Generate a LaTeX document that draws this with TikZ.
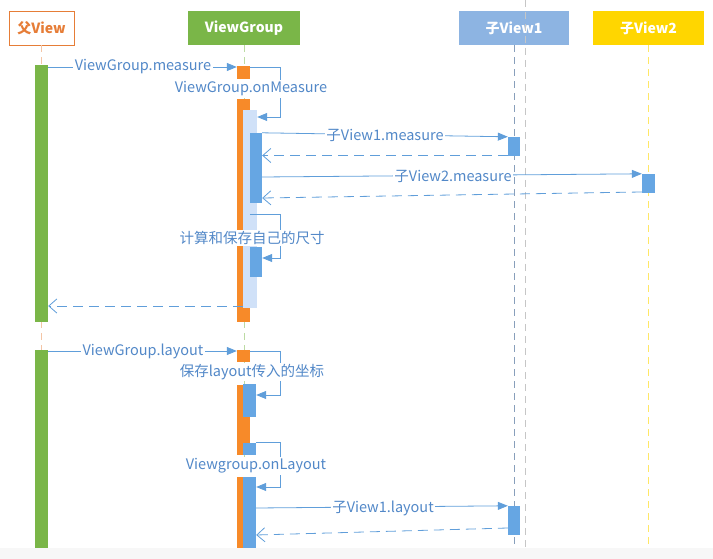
\documentclass[tikz,border=0pt]{standalone}
\usepackage{fontspec}
\setmainfont{Noto Sans CJK SC}
\definecolor{naranja}{RGB}{230,125,55}
\definecolor{barraNaranja}{RGB}{247,138,41}
\definecolor{verde}{RGB}{122,182,72}
\definecolor{azulCab}{RGB}{141,180,226}
\definecolor{amarillo}{RGB}{255,214,0}
\definecolor{azulLinea}{RGB}{96,158,218}
\definecolor{azulTexto}{RGB}{82,136,200}
\definecolor{azulBarra}{RGB}{102,166,227}
\definecolor{azulClaro}{RGB}{208,225,248}
\usepackage{tikz}
\usetikzlibrary{arrows.meta,calc}

\begin{document}
\begin{tikzpicture}[
    x=1pt, y=-1pt,
    font=\fontsize{14.5}{17}\selectfont,
    cabecera/.style={
        rectangle,
        inner sep=0pt,
        minimum width=110pt,
        minimum height=34pt,
        text=white,
        font=\fontsize{14}{16}\selectfont\bfseries
    },
    barra/.style={
        rectangle,
        inner sep=0pt,
        minimum width=13pt
    },
    vida/.style={
        dash pattern=on 7pt off 5pt,
        line width=1pt
    },
    llamada/.style={
        -{Triangle[length=10pt,width=8pt]},
        azulLinea,
        line width=0.8pt
    },
    retorno/.style={
        -{Straight Barb[length=8pt,width=14pt]},
        azulLinea,
        dash pattern=on 10pt off 6pt,
        line width=0.8pt
    },
    etiqueta/.style={
        fill=white,
        inner sep=1.5pt,
        text=azulTexto
    }
]
\useasboundingbox (0,0) rectangle (713,559);
\fill[gray!6] (0,548) rectangle (713,559);
\coordinate (fondo) at (0,548);

% CABECERAS
\node[cabecera, draw=naranja, fill=white, text=naranja, minimum width=65pt] (padre) at (41.5,28) {父View};
\node[cabecera, fill=verde, minimum width=112pt] (grupo) at (244,28) {ViewGroup};
\node[cabecera, fill=azulCab] (hijo1) at (514,28) {子View1};
\node[cabecera, fill=amarillo, minimum width=111pt] (hijo2) at (648.5,28) {子View2};

% LINEAS DE VIDA
\draw[vida, naranja!45] (padre.south) -- (padre.south |- fondo);
\draw[vida, verde!50] (grupo.south) -- (grupo.south |- fondo);
\draw[vida, azulCab!60!gray] (hijo1.south) -- (hijo1.south |- fondo);
\draw[vida, amarillo!60] (hijo2.south) -- (hijo2.south |- fondo);
\draw[vida, gray!45, line width=0.8pt] (525,0) -- (525,548);

% BARRAS DE ACTIVACION
\node[barra, fill=verde, minimum height=257pt] (pb1) at (41.5,193.5) {};
\node[barra, fill=verde, minimum height=198pt] (pb2) at (41.5,449) {};
\node[barra, fill=barraNaranja, minimum height=13pt] (gm) at (243.5,72.5) {};
\node[barra, fill=barraNaranja, minimum height=223pt] (go1) at (243.5,210.5) {};
\node[barra, fill=azulClaro, minimum width=14pt, minimum height=198pt] (gc) at (250,209) {};
\node[barra, fill=azulBarra, minimum width=12pt, minimum height=70pt] (gb1) at (256,168) {};
\node[barra, fill=azulBarra, minimum width=12pt, minimum height=30pt] (gb2) at (256,262) {};
\node[barra, fill=azulBarra, minimum width=12pt, minimum height=19pt] (h1m) at (514,146.5) {};
\node[barra, fill=azulBarra, minimum height=19pt] (h2m) at (648.5,183.5) {};

\node[barra, fill=barraNaranja, minimum height=12pt] (gl) at (243.5,356) {};
\node[barra, fill=barraNaranja, minimum height=70pt] (go2) at (243.5,420) {};
\node[barra, fill=azulBarra, minimum height=33pt] (gb3) at (249.5,400.5) {};
\node[barra, fill=azulBarra, minimum height=12pt] (gb4) at (249.5,449) {};
\node[barra, fill=barraNaranja, minimum height=71pt] (go3) at (243.5,512.5) {};
\node[barra, fill=azulBarra, minimum height=71pt] (gb5) at (249.5,512.5) {};
\node[barra, fill=azulBarra, minimum width=12pt, minimum height=29pt] (h1l) at (514,520.5) {};

% MEDIDA
\draw[llamada] (pb1.east |- 0,67) -- (gm.west |- 0,67);
\node[etiqueta] (t1) at (143,67) {ViewGroup.measure};
\draw[llamada] (gm.east |- 0,67) -| (280,117) -- (gc.east |- 0,117);
\node[etiqueta] (t2) at (251,89) {ViewGroup.onMeasure};
\draw[llamada] (gb1.north east) -- (h1m.north west);
\node[etiqueta] (t3) at (385,135) {子View1.measure};
\draw[retorno] (h1m.west |- 0,155.5) -- (gb1.east |- 0,155.5);
\draw[llamada] (gb1.east |- 0,177) -- (h2m.north west);
\node[etiqueta] (t4) at (453,176) {子View2.measure};
\draw[retorno] (h2m.west |- 0,192) -- (gb1.east |- 0,198);
\draw[llamada] (gb1.west |- 0,214) -| (280,258) -- (gb2.east |- 0,258);
\node[etiqueta] (t5) at (252,238) {计算和保存自己的尺寸};
\draw[retorno] (gc.west |- 0,306) -- (pb1.east |- 0,306);

% LAYOUT
\draw[llamada] (pb2.east |- 0,351) -- (gl.west |- 0,351);
\node[etiqueta] (t6) at (143,351) {ViewGroup.layout};
\draw[llamada] (gl.east |- 0,351) -| (280,395) -- (gb3.east |- 0,395);
\node[etiqueta] (t7) at (252,372) {保存layout传入的坐标};
\draw[llamada] (gb4.north east) -| (280,487) -- (gb5.east |- 0,487);
\node[etiqueta] (t8) at (256,466) {Viewgroup.onLayout};
\draw[llamada] (gb5.east |- 0,508) -- (h1l.north west);
\node[etiqueta] (t9) at (383,508) {子View1.layout};
\draw[retorno] (h1l.west |- 0,528) -- (gb5.east |- 0,535);

\end{tikzpicture}
\end{document}
